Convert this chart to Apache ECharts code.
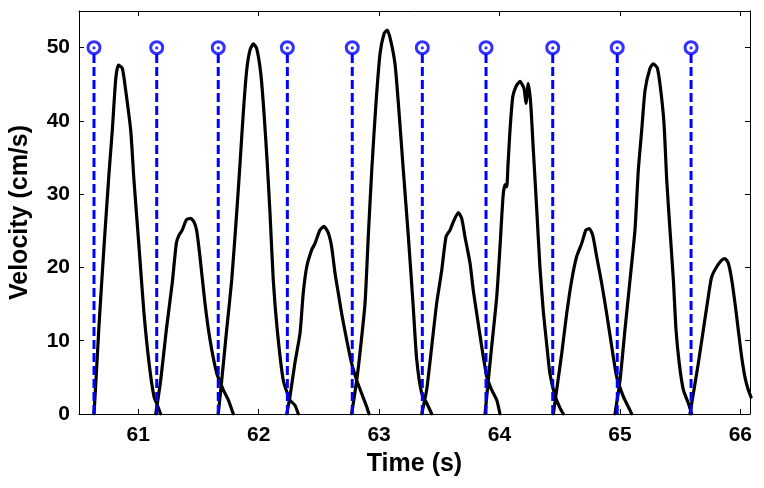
<!DOCTYPE html>
<html>
<head>
<meta charset="utf-8">
<script src="https://cdn.jsdelivr.net/npm/echarts@6/dist/echarts.min.js"></script>
<style>
html,body{margin:0;padding:0;background:#fff;}
#chart{width:764px;height:488px;}
</style>
</head>
<body>
<div id="chart"></div>
<script>
// Tick labels
const xTicks = [61, 62, 63, 64, 65, 66];
const yTicks = [0, 10, 20, 30, 40, 50];

// Trigger times (blue stems) and stem height
const stemTimes = [60.632, 61.153, 61.664, 62.238, 62.777, 63.359, 63.888, 64.442, 64.978, 65.591];
const stemValue = 50;

// Velocity traces per beat: [time (s), velocity (cm/s)]
const beat1 = [[60.632,0],[60.653,5.9],[60.674,12.2],[60.715,22.8],[60.757,32.9],[60.784,38.7],[60.812,45.6],[60.834,47.6],[60.867,47.2],[60.895,44.2],[60.937,38.7],[60.964,31.9],[61.006,22.8],[61.047,13.8],[61.089,7.0],[61.130,2.4],[61.158,1.2],[61.186,0]];
const beat2 = [[61.145,0],[61.186,4.6],[61.233,11.5],[61.282,17.9],[61.316,23.3],[61.338,24.4],[61.365,25.1],[61.399,26.5],[61.435,26.7],[61.463,26.2],[61.485,25.0],[61.512,21.5],[61.554,15.1],[61.596,10.1],[61.651,5.6],[61.706,3.3],[61.748,1.9],[61.789,0]];
const beat3 = [[61.664,0],[61.693,4.6],[61.734,11.5],[61.776,18.3],[61.817,27.4],[61.845,34.2],[61.872,41.1],[61.900,46.9],[61.928,49.7],[61.955,50.5],[61.983,49.9],[62.017,46.5],[62.044,41.1],[62.071,34.2],[62.094,27.4],[62.121,18.3],[62.154,11.5],[62.204,4.6],[62.260,1.9],[62.301,1.2],[62.329,0]];
const beat4 = [[62.233,0],[62.260,2.4],[62.301,7.0],[62.343,11.0],[62.370,16.5],[62.399,20.1],[62.440,22.4],[62.468,23.3],[62.509,25.1],[62.542,25.6],[62.578,24.7],[62.606,22.8],[62.634,19.2],[62.661,16.5],[62.689,13.7],[62.731,10.1],[62.772,6.9],[62.814,4.6],[62.855,2.8],[62.897,1.0],[62.916,0]];
const beat5 = [[62.772,0],[62.814,4.6],[62.841,8.3],[62.883,15.1],[62.910,24.2],[62.939,33.3],[62.974,42.4],[63.008,49.2],[63.041,51.9],[63.068,52.4],[63.096,51.0],[63.132,47.8],[63.160,42.4],[63.201,33.3],[63.243,24.2],[63.284,14.5],[63.312,7.5],[63.354,2.8],[63.395,1.5],[63.437,0]];
const beat6 = [[63.354,0],[63.395,3.3],[63.437,9.2],[63.478,15.1],[63.520,19.6],[63.556,24.2],[63.589,25.1],[63.616,26.2],[63.658,27.5],[63.686,26.7],[63.713,24.2],[63.755,20.6],[63.782,16.9],[63.811,13.7],[63.852,9.2],[63.894,5.1],[63.935,3.3],[63.977,1.9],[64.004,0]];
const beat7 = [[63.880,0],[63.907,4.6],[63.935,9.2],[63.977,16.0],[64.004,22.8],[64.030,29.8],[64.046,31.3],[64.060,31.0],[64.070,33.8],[64.087,38.7],[64.110,43.3],[64.137,44.7],[64.170,45.4],[64.204,44.4],[64.220,42.4],[64.239,45.1],[64.259,42.4],[64.281,36.0],[64.309,28.0],[64.336,20.0],[64.364,14.0],[64.392,9.5],[64.419,5.5],[64.461,2.5],[64.503,0.8],[64.530,0]];
const beat8 = [[64.447,0],[64.475,3.3],[64.517,8.3],[64.558,13.7],[64.600,18.3],[64.641,21.5],[64.683,23.3],[64.718,25.1],[64.746,25.3],[64.774,24.4],[64.807,21.5],[64.849,17.8],[64.890,13.7],[64.932,9.2],[64.973,5.1],[65.028,2.4],[65.084,0.5],[65.098,0]];
const beat9 = [[64.959,0],[65.001,4.6],[65.042,11.5],[65.084,18.3],[65.125,25.1],[65.153,33.3],[65.181,38.7],[65.209,44.2],[65.250,47.2],[65.277,47.8],[65.311,47.2],[65.339,44.2],[65.366,39.7],[65.389,31.9],[65.416,25.1],[65.444,18.3],[65.466,11.5],[65.493,6.9],[65.527,3.3],[65.568,1.5],[65.596,0]];
const beat10 = [[65.582,0],[65.610,2.8],[65.651,6.9],[65.693,11.5],[65.734,16.0],[65.762,18.7],[65.804,20.1],[65.846,21.0],[65.873,21.2],[65.900,20.6],[65.929,18.3],[65.956,15.1],[65.983,11.5],[66.012,7.7],[66.039,5.0],[66.066,3.3],[66.089,2.3]];

const beats = [beat1, beat2, beat3, beat4, beat5, beat6, beat7, beat8, beat9, beat10];

// Build line data with breaks between beats
const traceData = [];
beats.forEach(function (b, i) {
  b.forEach(function (p) { traceData.push(p); });
  if (i < beats.length - 1) traceData.push([b[b.length - 1][0], null]);
});
const stemData = [];
stemTimes.forEach(function (t) {
  stemData.push([t, 0]);
  stemData.push([t, stemValue]);
  stemData.push([t, null]);
});
const headData = stemTimes.map(function (t) { return [t, stemValue]; });

const FONT = 'Liberation Sans, Arial, sans-serif';
const XMIN = 60.5075, XMAX = 66.0805, YMIN = 0, YMAX = 55;

const chart = echarts.init(document.getElementById('chart'), null, {renderer: 'canvas'});
const axisLine = {show: true, onZero: false, lineStyle: {color: '#000', width: 1}};
const tickIn = {show: true, inside: true, length: 5, lineStyle: {color: '#000', width: 1}};

chart.setOption({
  animation: false,
  backgroundColor: '#fff',
  grid: {left: 79, right: 14, top: 11, bottom: 74, containLabel: false},
  xAxis: [{
    type: 'value', min: XMIN, max: XMAX, position: 'bottom',
    axisLine: axisLine,
    axisTick: Object.assign({}, tickIn, {customValues: xTicks}),
    axisLabel: {customValues: xTicks, color: '#000', fontFamily: FONT, fontWeight: 'bold', fontSize: 21, margin: 11},
    splitLine: {show: false},
    name: 'Time (s)', nameLocation: 'middle', nameGap: 38,
    nameTextStyle: {color: '#000', fontFamily: FONT, fontWeight: 'bold', fontSize: 25}
  }, {
    type: 'value', min: XMIN, max: XMAX, position: 'top',
    axisLine: axisLine,
    axisTick: Object.assign({}, tickIn, {customValues: xTicks}),
    axisLabel: {show: false},
    splitLine: {show: false}
  }],
  yAxis: [{
    type: 'value', min: YMIN, max: YMAX, position: 'left',
    axisLine: axisLine,
    axisTick: Object.assign({}, tickIn, {customValues: yTicks}),
    axisLabel: {customValues: yTicks, color: '#000', fontFamily: FONT, fontWeight: 'bold', fontSize: 21, margin: 9},
    splitLine: {show: false},
    name: 'Velocity (cm/s)', nameLocation: 'middle', nameGap: 46,
    nameTextStyle: {color: '#000', fontFamily: FONT, fontWeight: 'bold', fontSize: 25}
  }, {
    type: 'value', min: YMIN, max: YMAX, position: 'right',
    axisLine: axisLine,
    axisTick: Object.assign({}, tickIn, {customValues: yTicks}),
    axisLabel: {show: false},
    splitLine: {show: false}
  }],
  series: [{
    type: 'line', data: traceData, showSymbol: false, symbol: 'none',
    connectNulls: false, smooth: 0.2, clip: true,
    lineStyle: {color: '#000', width: 3.2, join: 'round', cap: 'round'},
    z: 2
  }, {
    type: 'line', data: stemData, showSymbol: false, symbol: 'none',
    connectNulls: false, clip: true,
    lineStyle: {color: '#0000ff', width: 3, type: [9, 4]},
    z: 3
  }, {
    type: 'scatter', data: headData, symbol: 'circle', symbolSize: 12,
    itemStyle: {color: '#fff', borderColor: '#0000ff', borderWidth: 3},
    z: 4
  }, {
    type: 'scatter', data: headData, symbol: 'circle', symbolSize: 3,
    itemStyle: {color: '#0000ff'},
    z: 5
  }]
});
</script>
</body>
</html>
